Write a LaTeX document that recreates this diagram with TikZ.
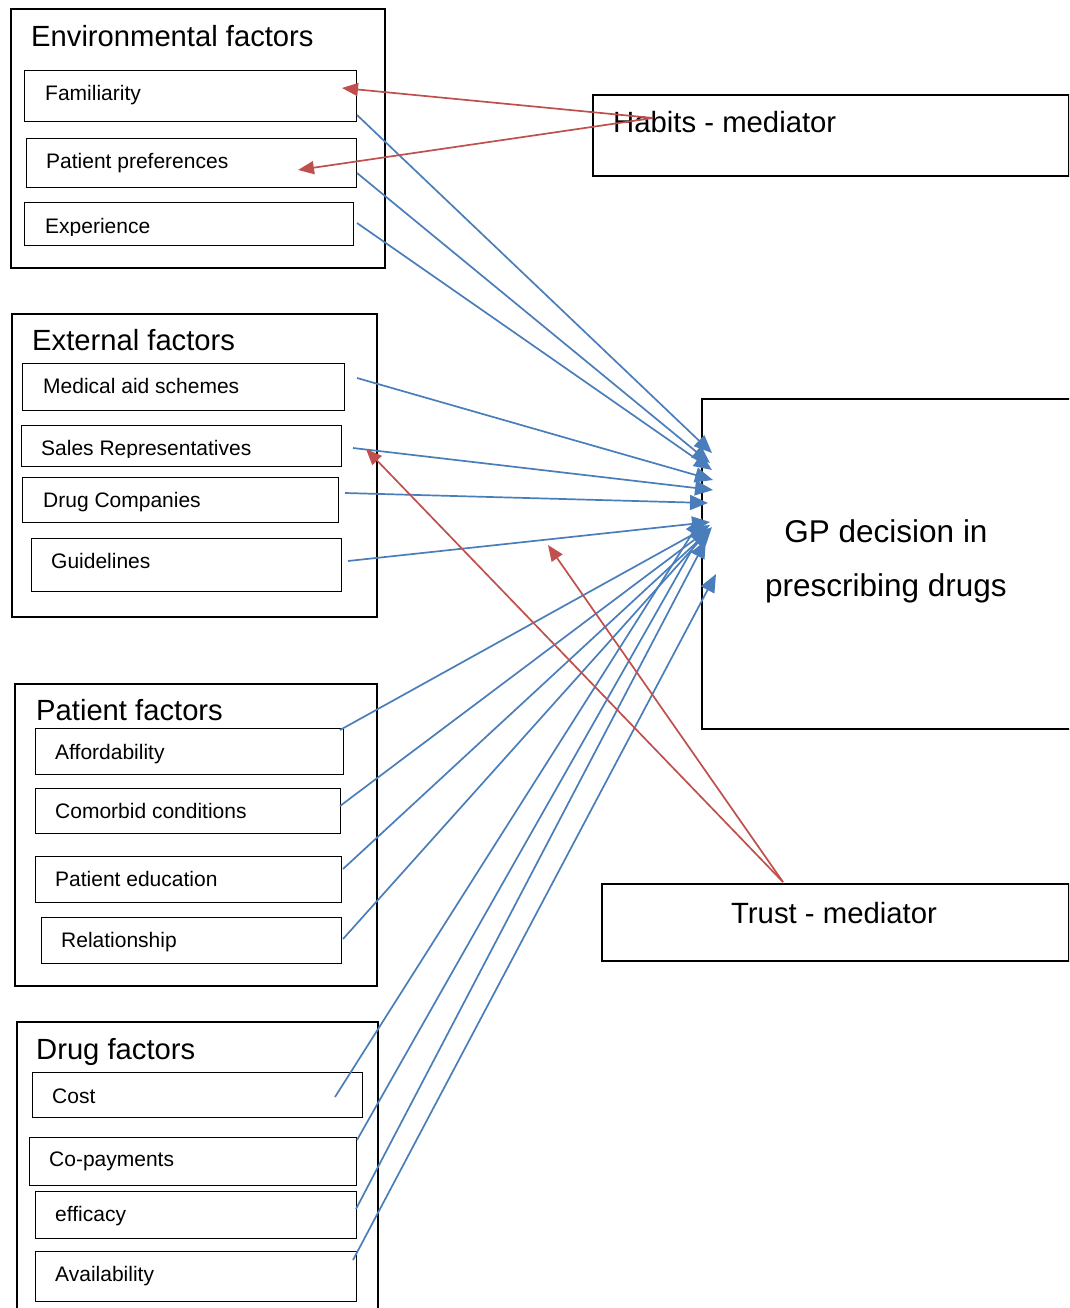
\documentclass[tikz,border=0pt]{standalone}
\usepackage{fontspec}
\setmainfont{Liberation Sans}
\usetikzlibrary{arrows.meta}
\definecolor{lnblue}{HTML}{4A7EBB}
\definecolor{lnred}{HTML}{C0504D}
\begin{document}
\begin{tikzpicture}[x=1pt,y=-1pt,
  outerbox/.style={draw=black,line width=1.8pt,inner sep=0pt,anchor=north west},
  itembox/.style={draw=black,line width=1.2pt,inner sep=0pt,anchor=north west},
  ttl/.style={anchor=base west,inner sep=0pt,font=\fontsize{29.2}{34}\selectfont},
  itm/.style={anchor=base west,inner sep=0pt,font=\fontsize{21}{25}\selectfont},
  med/.style={anchor=base,inner sep=0pt,font=\fontsize{29.3}{34}\selectfont},
  big/.style={anchor=base,inner sep=0pt,font=\fontsize{31.5}{36}\selectfont},
  bluearr/.style={draw=lnblue,line width=1.7pt,-{Triangle[length=18pt,width=15pt]}},
  redarr/.style={draw=lnred,line width=1.7pt,-{Triangle[length=16pt,width=13pt]}},
]
\clip (0,0) rectangle (1069,1308);
\fill[white] (0,0) rectangle (1069,1308);

% Environmental factors
\node[outerbox,minimum width=374pt,minimum height=259pt] (env) at (10,8) {};
\node[ttl] (envt) at (31,47) {Environmental factors};
\node[itembox,minimum width=332pt,minimum height=51pt] (fam) at (24,70) {};
\node[itm] (famt) at (45,101) {Familiarity};
\node[itembox,minimum width=330pt,minimum height=49pt] (pref) at (26,138) {};
\node[itm] (preft) at (46,169) {Patient preferences};
\node[itembox,minimum width=329pt,minimum height=43pt] (expn) at (24,202) {};
\begin{scope}
  \clip (24,202) rectangle (353,235);
  \node[itm] (expt) at (45,233) {Experience};
\end{scope}

% External factors
\node[outerbox,minimum width=365pt,minimum height=303pt] (ext) at (11,313) {};
\node[ttl] (extt) at (32,350) {External factors};
\node[itembox,minimum width=322pt,minimum height=47pt] (medb) at (22,363) {};
\node[itm] (medt) at (43,393) {Medical aid schemes};
\node[itembox,minimum width=320pt,minimum height=41pt] (sales) at (21,425) {};
\begin{scope}
  \clip (21,425) rectangle (341,457);
  \node[itm] (salest) at (41,455) {Sales Representatives};
\end{scope}
\node[itembox,minimum width=316pt,minimum height=45pt] (drugco) at (22,477) {};
\node[itm] (drugcot) at (43,507) {Drug Companies};
\node[itembox,minimum width=310pt,minimum height=53pt] (guide) at (31,538) {};
\node[itm] (guidet) at (51,568) {Guidelines};

% Patient factors
\node[outerbox,minimum width=362pt,minimum height=302pt] (pat) at (14,683) {};
\node[ttl] (patt) at (36,720) {Patient factors};
\node[itembox,minimum width=308pt,minimum height=46pt] (aff) at (35,728) {};
\node[itm] (afft) at (55,759) {Affordability};
\node[itembox,minimum width=305pt,minimum height=45pt] (com) at (35,788) {};
\node[itm] (comt) at (55,818) {Comorbid conditions};
\node[itembox,minimum width=306pt,minimum height=46pt] (edu) at (35,856) {};
\node[itm] (edut) at (55,886) {Patient education};
\node[itembox,minimum width=300pt,minimum height=46pt] (rel) at (41,917) {};
\node[itm] (relt) at (61,947) {Relationship};

% Drug factors
\node[outerbox,minimum width=361pt,minimum height=300pt] (drug) at (16,1021) {};
\node[ttl] (drugt) at (36,1059) {Drug factors};
\node[itembox,minimum width=330pt,minimum height=45pt] (cost) at (32,1072) {};
\node[itm] (costt) at (52,1103) {Cost};
\node[itembox,minimum width=327pt,minimum height=48pt] (copay) at (29,1137) {};
\node[itm] (copayt) at (49,1166) {Co-payments};
\node[itembox,minimum width=321pt,minimum height=47pt] (eff) at (35,1191) {};
\node[itm] (efft) at (55,1221) {efficacy};
\node[itembox,minimum width=321pt,minimum height=50pt] (avail) at (35,1251) {};
\node[itm] (availt) at (55,1281) {Availability};

% Right side
\node[outerbox,minimum width=476pt,minimum height=81pt] (habits) at (592,94) {};
\node[anchor=base west,inner sep=0pt,font=\fontsize{29.3}{34}\selectfont] (habitst) at (613,133) {Habits - mediator};
\node[outerbox,minimum width=467pt,minimum height=77pt] (trust) at (601,883) {};
\node[med] (trustt) at (834,923) {Trust - mediator};
\node[outerbox,minimum width=380pt,minimum height=330pt] (gp) at (701,398) {};
\node[big] (gpt1) at (886,542) {GP decision in};
\node[big] (gpt2) at (886,596) {prescribing drugs};

% connector end points
\coordinate (famT) at (357,115);   \coordinate (famH) at (712,453);
\coordinate (prefT) at (357,173);  \coordinate (prefH) at (710,463);
\coordinate (expT) at (357,223);   \coordinate (expH) at (712,470);
\coordinate (medT) at (357,378);   \coordinate (medH) at (713,480);
\coordinate (salT) at (353,448);   \coordinate (salH) at (713,490);
\coordinate (dcoT) at (345,493);   \coordinate (dcoH) at (708,503);
\coordinate (gdlT) at (348,561);   \coordinate (gdlH) at (710,522);
\coordinate (affT) at (340,730);   \coordinate (affH) at (710,525);
\coordinate (comT) at (340,806);   \coordinate (comH) at (710,528);
\coordinate (eduT) at (343,869);   \coordinate (eduH) at (710,530);
\coordinate (relT) at (343,939);   \coordinate (relH) at (712,527);
\coordinate (cosT) at (335,1097);  \coordinate (cosH) at (702,518);
\coordinate (copT) at (357,1140);  \coordinate (copH) at (706,525);
\coordinate (effT) at (356,1209);  \coordinate (effH) at (706,540);
\coordinate (avaT) at (353,1260);  \coordinate (avaH) at (716,574);

\coordinate (habC) at (653,118);
\coordinate (famR) at (342,88);
\coordinate (prefR) at (298,170);
\coordinate (trustC) at (783,882);
\coordinate (salR) at (366,449);
\coordinate (midR) at (548,545);

% blue connectors
\foreach \a in {fam,pref,exp,med,sal,dco,gdl,aff,com,edu,rel,cos,cop,eff,ava}
  \draw[bluearr] (\a T) -- (\a H);

% red connectors
\draw[redarr] (habC) -- (famR);
\draw[redarr] (habC) -- (prefR);
\draw[redarr] (trustC) -- (salR);
\draw[redarr] (trustC) -- (midR);
\end{tikzpicture}
\end{document}
